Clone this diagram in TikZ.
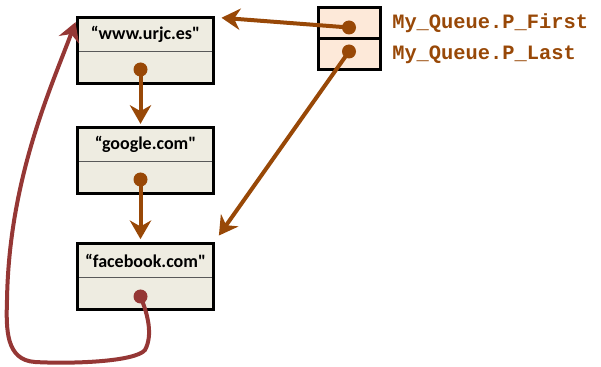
\documentclass[tikz,border=0pt]{standalone}
\usepackage{fontspec}
\newfontfamily\cellfont{Carlito}
\newfontfamily\codefont{Liberation Mono}
\usepackage{tikz}
\usetikzlibrary{
  calc,%
  arrows.meta,
  positioning
}
\definecolor{ptrbrown}{HTML}{984807}
\definecolor{loopred}{HTML}{953735}
\definecolor{cellfill}{HTML}{EEECE1}
\definecolor{headfill}{HTML}{FDE9D9}
\tikzset{>={Stealth[length=14pt,width=16pt,inset=4.5pt]}}
\tikzset{
  datacell/.style={draw=black!65, line width=0.9pt, fill=cellfill,
    minimum width=102pt, minimum height=26pt, inner sep=0pt, outer sep=0pt,
    font=\cellfont\bfseries\fontsize{13.5}{15}\selectfont},
  nextcell/.style={datacell, minimum height=23.5pt},
  frame/.style={draw=black, line width=2.25pt},
  headcell/.style={draw=black, line width=2.25pt, fill=headfill,
    minimum width=46.5pt, minimum height=23.25pt, inner sep=0pt, outer sep=0pt},
  ptrdot/.style={circle, fill=ptrbrown, inner sep=0pt, minimum size=10.5pt},
  link/.style={->, line width=3pt, ptrbrown},
  headlabel/.style={font=\codefont\bfseries\fontsize{15.3}{17}\selectfont,
    text=ptrbrown, inner sep=0pt},
}
\begin{document}
\begin{tikzpicture}[x=0.75pt,y=-0.75pt]
  \useasboundingbox (0,0) rectangle (601,367);
  % list cells
  \node[datacell] (w1) at (145.5,34.5) {“www.urjc.es"};
  \node[nextcell, below=0pt of w1] (w1n) {};
  \node[datacell, below=33pt of w1n] (w2) {“google.com"};
  \node[nextcell, below=0pt of w2] (w2n) {};
  \node[datacell, below=37.5pt of w2n] (w3) {“facebook.com"};
  \node[nextcell, below=0pt of w3] (w3n) {};
  \foreach \c in {1,2,3}
    \draw[frame] (w\c.north west) rectangle (w\c n.south east);
  % queue head
  \node[headcell] (pfirst) at (349,23.5) {};
  \node[headcell, below=0pt of pfirst] (plast) {};
  \node[headlabel, right=9pt of pfirst] (lfirst) {My\_Queue.P\_First};
  \node[headlabel, right=9pt of plast] (llast) {My\_Queue.P\_Last};
  % pointer dots
  \node[ptrdot] (d1) at ($(w1n.center)+(-5,2)$) {};
  \node[ptrdot] (d2) at ($(w2n.center)+(-5,2)$) {};
  \node[ptrdot, fill=loopred] (d3) at ($(w3n.center)+(-5,3)$) {};
  \node[ptrdot] (df) at ($(pfirst.center)+(0,4)$) {};
  \node[ptrdot] (dl) at ($(plast.center)+(0,-3)$) {};
  % links
  \draw[link, shorten >=2.5pt] (d1.center) -- (d1 |- w2.north);
  \draw[link, shorten >=3pt] (d2.center) -- (d2 |- w3.north);
  \draw[link, shorten >=6pt] (df.center) -- (w1.north east);
  \draw[link, shorten >=7pt] (dl.center) -- (w3.north east);
  \coordinate (back) at ($(w1.north west)+(-2,5)$);
  \draw[->, line width=3pt, loopred] (d3.center)
    .. controls (148,315) and (153,335) .. (145,350)
    .. controls (135,362) and (70,364) .. (35,362)
    .. controls (6,360) and (6,330) .. (7,300)
    .. controls (9,180) and (50,90) .. (back);
\end{tikzpicture}
\end{document}
